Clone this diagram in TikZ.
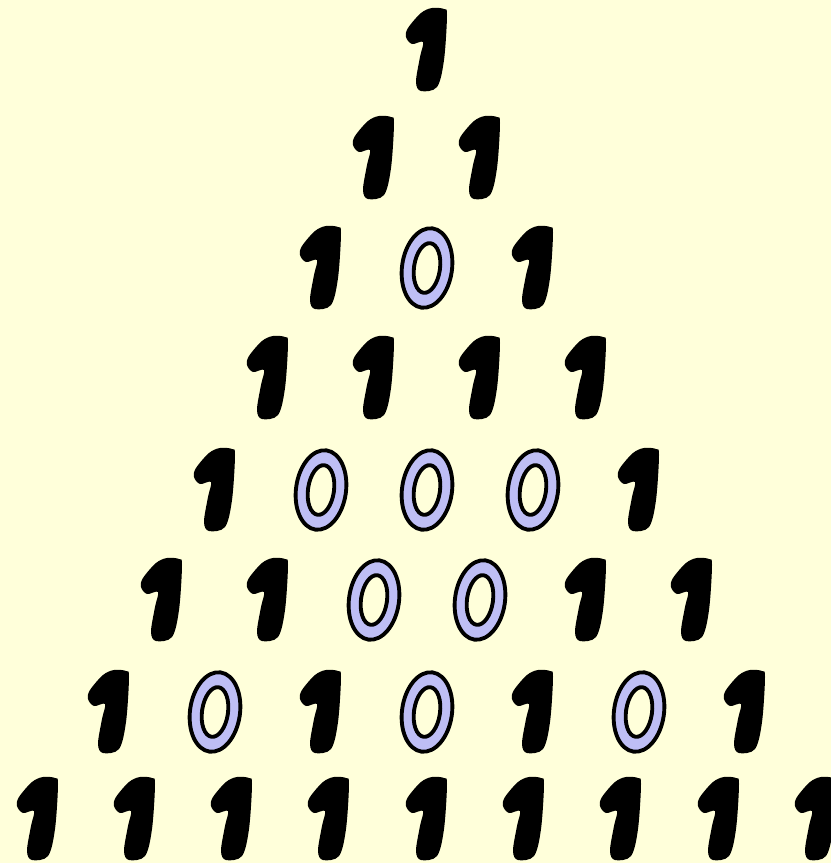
\documentclass[tikz,border=0pt]{standalone}
\definecolor{paper}{RGB}{255,255,218}
\definecolor{zeroblue}{RGB}{190,190,245}
\tikzset{
	one/.pic={\fill[black] plot[smooth cycle, tension=0.55] coordinates {(-21,-13) (-19,-22) (-6,-37) (5,-42) (17,-41) (20,-35) (17,10) (10,37) (-6,41) (-11,32) (-7,7) (-4,-8) (-15,-6)};},
	zero/.pic={\filldraw[fill=zeroblue, line width=2.2pt, even odd rule, rotate=-8] (0,0) ellipse [x radius=25, y radius=40] (0,0) ellipse [x radius=13, y radius=25];}
}
\begin{document}
\begin{tikzpicture}[x=0.02cm, y=-0.02cm]
	\fill[paper] (0,0) rectangle (831,863);
	\useasboundingbox (0,0) rectangle (831,863);

	% row 0
	\pic (a1) at (427,50) {one};
	% row 1
	\pic (b1) at (374,158) {one};
	\pic (b2) at (480,158) {one};
	% row 2
	\pic (c1) at (321,268) {one};
	\pic (c2) at (427,268) {zero};
	\pic (c3) at (533,268) {one};
	% row 3
	\pic (d1) at (268,378) {one};
	\pic (d2) at (374,378) {one};
	\pic (d3) at (480,378) {one};
	\pic (d4) at (586,378) {one};
	% row 4
	\pic (e1) at (215,490) {one};
	\pic (e2) at (321,490) {zero};
	\pic (e3) at (427,490) {zero};
	\pic (e4) at (533,490) {zero};
	\pic (e5) at (639,490) {one};
	% row 5
	\pic (f1) at (162,600) {one};
	\pic (f2) at (268,600) {one};
	\pic (f3) at (374,600) {zero};
	\pic (f4) at (480,600) {zero};
	\pic (f5) at (586,600) {one};
	\pic (f6) at (692,600) {one};
	% row 6
	\pic (g1) at (109,712) {one};
	\pic (g2) at (215,712) {zero};
	\pic (g3) at (321,712) {one};
	\pic (g4) at (427,712) {zero};
	\pic (g5) at (533,712) {one};
	\pic (g6) at (639,712) {zero};
	\pic (g7) at (745,712) {one};
	% row 7
	\pic (h1) at (38,819) {one};
	\pic (h2) at (135,819) {one};
	\pic (h3) at (232,819) {one};
	\pic (h4) at (329,819) {one};
	\pic (h5) at (427,819) {one};
	\pic (h6) at (524,819) {one};
	\pic (h7) at (621,819) {one};
	\pic (h8) at (719,819) {one};
	\pic (h9) at (816,819) {one};
\end{tikzpicture}
\end{document}
